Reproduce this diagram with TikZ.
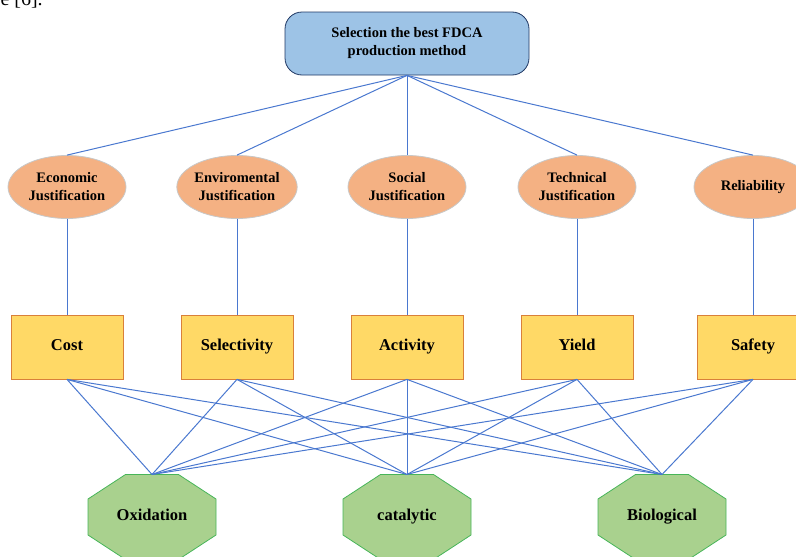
\documentclass[tikz,border=0pt]{standalone}
\usepackage{fontspec}
\setmainfont{Liberation Serif}
\usetikzlibrary{shapes.geometric,backgrounds}

\definecolor{linkblue}{HTML}{4A78CF}
\definecolor{goalfill}{HTML}{9DC3E6}
\definecolor{goalborder}{HTML}{203864}
\definecolor{critfill}{HTML}{F4B183}
\definecolor{critborder}{HTML}{C8C8C8}
\definecolor{subfill}{HTML}{FFD966}
\definecolor{subborder}{HTML}{D9803A}
\definecolor{methfill}{HTML}{A9D18E}
\definecolor{methborder}{HTML}{47B559}

\begin{document}
\begin{tikzpicture}[x=1pt,y=-1pt,
  link/.style={draw=linkblue,line width=1pt},
  goal/.style={rectangle,draw=goalborder,fill=goalfill,line width=0.8pt,rounded corners=17pt,
    minimum width=244pt,minimum height=63pt,align=center,font=\fontsize{14.5}{18}\selectfont\bfseries},
  crit/.style={ellipse,draw=critborder,fill=critfill,line width=0.8pt,minimum width=118pt,
    minimum height=63pt,inner sep=0pt,align=center,font=\fontsize{14.5}{18}\selectfont\bfseries},
  sub/.style={rectangle,draw=subborder,fill=subfill,line width=0.8pt,minimum width=112pt,
    minimum height=64pt,text height=0.66em,text depth=0pt,font=\fontsize{16.5}{19}\selectfont\bfseries},
  meth/.style={rectangle,minimum width=128pt,minimum height=85pt,outer sep=0pt,
    text height=0.66em,text depth=0pt,font=\fontsize{16.5}{19}\selectfont\bfseries},
  octa/.style={draw=methborder,fill=methfill,line width=0.8pt}]

\useasboundingbox (0,0) rectangle (796,557);
\clip (0,0) rectangle (796,557);

\node[anchor=base west,font=\fontsize{20}{24}\selectfont] (cite) at (-3,5) {e [6].};

\node[goal] (goal) at (407,43.5) {Selection the best FDCA\\production method};

\node[crit] (econ) at (67,187) {Economic\\Justification};
\node[crit] (envi) at (237,187) {Enviromental\\Justification};
\node[crit] (soci) at (407,187) {Social\\Justification};
\node[crit] (tech) at (577,187) {Technical\\Justification};
\node[crit] (reli) at (753,187) {Reliability};

\node[sub] (cost) at (67,347) {Cost};
\node[sub] (sele) at (237,347) {Selectivity};
\node[sub] (acti) at (407,347) {Activity};
\node[sub] (yiel) at (577,347) {Yield};
\node[sub] (safe) at (753,347) {Safety};

\node[meth] (oxid) at (152,517) {Oxidation};
\node[meth] (cata) at (407,517) {catalytic};
\node[meth] (biol) at (662,517) {Biological};

\begin{scope}[on background layer]
\foreach \m in {oxid,cata,biol}
  \filldraw[octa] ([xshift=-26.5pt]\m.north) -- ([xshift=26.5pt]\m.north) -- ([yshift=18pt]\m.east)
    -- ([yshift=-18pt]\m.east) -- ([xshift=26.5pt]\m.south) -- ([xshift=-26.5pt]\m.south)
    -- ([yshift=-18pt]\m.west) -- ([yshift=18pt]\m.west) -- cycle;
\end{scope}

\foreach \c in {econ,envi,soci,tech,reli}
  \draw[link] (goal.south) -- (\c.north);

\draw[link] (econ.south) -- (cost.north);
\draw[link] (envi.south) -- (sele.north);
\draw[link] (soci.south) -- (acti.north);
\draw[link] (tech.south) -- (yiel.north);
\draw[link] (reli.south) -- (safe.north);

\foreach \s in {cost,sele,acti,yiel,safe}
  \foreach \m in {oxid,cata,biol}
    \draw[link] (\s.south) -- (\m.north);

\end{tikzpicture}
\end{document}
